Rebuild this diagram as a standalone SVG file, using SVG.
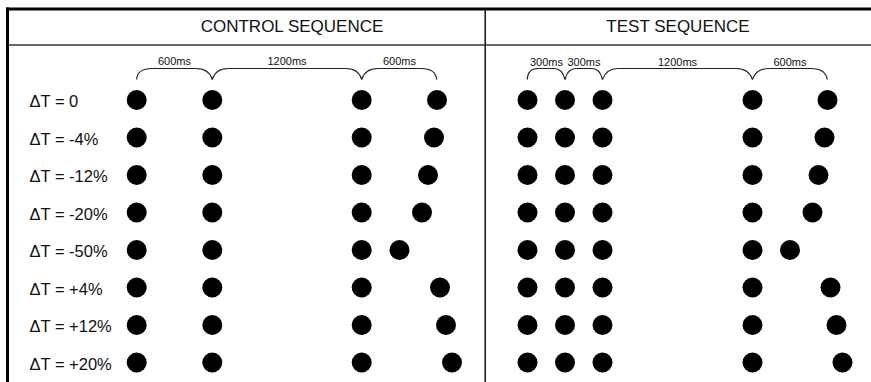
<svg xmlns="http://www.w3.org/2000/svg" width="871" height="382" viewBox="0 0 871 382">
<style>
.hdr{font-family:"Liberation Sans",Arial,sans-serif;font-size:17px;fill:#111;text-anchor:middle}
.lbl{font-family:"Liberation Sans",Arial,sans-serif;font-size:16.5px;fill:#111}
.ms{font-family:"Liberation Sans",Arial,sans-serif;font-size:11px;fill:#111;text-anchor:middle}
.brace{fill:none;stroke:#222;stroke-width:1.2}
.dot{fill:#000}
</style>
<rect width="871" height="382" fill="#fff"/>
<g id="frame">
<line x1="6" y1="9" x2="871" y2="9" stroke="#000" stroke-width="3"/>
<line x1="7.5" y1="7.5" x2="7.5" y2="382" stroke="#000" stroke-width="3"/>
<line x1="9" y1="45" x2="871" y2="45" stroke="#333" stroke-width="1.5"/>
<line x1="485.2" y1="10" x2="485.2" y2="382" stroke="#111" stroke-width="1.5"/>
<text class="hdr" x="292" y="31.7">CONTROL SEQUENCE</text>
<text class="hdr" x="678" y="31.7">TEST SEQUENCE</text>
</g>
<g id="connectors">
<path class="brace" d="M136.7,79.5 C137,72 142,68.5 152,68.5 L196,68.5 C205,68.5 210,72 212.3,79.5"/>
<path class="brace" d="M212.3,79.5 C214.5,72 220,68.5 228,68.5 L346,68.5 C354,68.5 359.5,72 361.7,79.5"/>
<path class="brace" d="M361.7,79.5 C364,72 369,68.5 378,68.5 L421,68.5 C430,68.5 436,72 436.7,79.5"/>
<path class="brace" d="M527.3,79.5 C527.5,73 531,68.5 538,68.5 L554,68.5 C560,68.5 563.5,73 565,79.5"/>
<path class="brace" d="M565,79.5 C566.5,73 570,68.5 576,68.5 L592,68.5 C598,68.5 601,73 602.5,79.5"/>
<path class="brace" d="M602.5,79.5 C605,72 610,68.5 618,68.5 L736,68.5 C744,68.5 750,72 752.5,79.5"/>
<path class="brace" d="M752.5,79.5 C755,72 760,68.5 769,68.5 L811,68.5 C820,68.5 826,72 827.3,79.5"/>
</g>
<g id="interval-labels">
<text class="ms" x="174.5" y="65">600ms</text>
<text class="ms" x="287" y="65">1200ms</text>
<text class="ms" x="399.5" y="65">600ms</text>
<text class="ms" x="546.5" y="65.5">300ms</text>
<text class="ms" x="584" y="65.5">300ms</text>
<text class="ms" x="677.5" y="65.5">1200ms</text>
<text class="ms" x="790" y="65.5">600ms</text>
</g>
<g id="row-0">
<text class="lbl" x="29.5" y="107.3">ΔT = 0</text>
<circle class="dot" cx="136.7" cy="100" r="10"/><circle class="dot" cx="212.3" cy="100" r="10"/><circle class="dot" cx="361.7" cy="100" r="10"/><circle class="dot" cx="437" cy="100" r="10"/>
<circle class="dot" cx="527.5" cy="100" r="10"/><circle class="dot" cx="565" cy="100" r="10"/><circle class="dot" cx="602.5" cy="100" r="10"/><circle class="dot" cx="752.5" cy="100" r="10"/><circle class="dot" cx="827.5" cy="100" r="10"/>
</g>
<g id="row-m4">
<text class="lbl" x="29.5" y="144.8">ΔT = -4%</text>
<circle class="dot" cx="136.7" cy="137.5" r="10"/><circle class="dot" cx="212.3" cy="137.5" r="10"/><circle class="dot" cx="361.7" cy="137.5" r="10"/><circle class="dot" cx="434" cy="137.5" r="10"/>
<circle class="dot" cx="527.5" cy="137.5" r="10"/><circle class="dot" cx="565" cy="137.5" r="10"/><circle class="dot" cx="602.5" cy="137.5" r="10"/><circle class="dot" cx="752.5" cy="137.5" r="10"/><circle class="dot" cx="824.5" cy="137.5" r="10"/>
</g>
<g id="row-m12">
<text class="lbl" x="29.5" y="182.3">ΔT = -12%</text>
<circle class="dot" cx="136.7" cy="175" r="10"/><circle class="dot" cx="212.3" cy="175" r="10"/><circle class="dot" cx="361.7" cy="175" r="10"/><circle class="dot" cx="428" cy="175" r="10"/>
<circle class="dot" cx="527.5" cy="175" r="10"/><circle class="dot" cx="565" cy="175" r="10"/><circle class="dot" cx="602.5" cy="175" r="10"/><circle class="dot" cx="752.5" cy="175" r="10"/><circle class="dot" cx="818.5" cy="175" r="10"/>
</g>
<g id="row-m20">
<text class="lbl" x="29.5" y="219.8">ΔT = -20%</text>
<circle class="dot" cx="136.7" cy="212.5" r="10"/><circle class="dot" cx="212.3" cy="212.5" r="10"/><circle class="dot" cx="361.7" cy="212.5" r="10"/><circle class="dot" cx="422" cy="212.5" r="10"/>
<circle class="dot" cx="527.5" cy="212.5" r="10"/><circle class="dot" cx="565" cy="212.5" r="10"/><circle class="dot" cx="602.5" cy="212.5" r="10"/><circle class="dot" cx="752.5" cy="212.5" r="10"/><circle class="dot" cx="812.5" cy="212.5" r="10"/>
</g>
<g id="row-m50">
<text class="lbl" x="29.5" y="257.3">ΔT = -50%</text>
<circle class="dot" cx="136.7" cy="250" r="10"/><circle class="dot" cx="212.3" cy="250" r="10"/><circle class="dot" cx="361.7" cy="250" r="10"/><circle class="dot" cx="399.5" cy="250" r="10"/>
<circle class="dot" cx="527.5" cy="250" r="10"/><circle class="dot" cx="565" cy="250" r="10"/><circle class="dot" cx="602.5" cy="250" r="10"/><circle class="dot" cx="752.5" cy="250" r="10"/><circle class="dot" cx="790" cy="250" r="10"/>
</g>
<g id="row-p4">
<text class="lbl" x="29.5" y="294.8">ΔT = +4%</text>
<circle class="dot" cx="136.7" cy="287.5" r="10"/><circle class="dot" cx="212.3" cy="287.5" r="10"/><circle class="dot" cx="361.7" cy="287.5" r="10"/><circle class="dot" cx="440" cy="287.5" r="10"/>
<circle class="dot" cx="527.5" cy="287.5" r="10"/><circle class="dot" cx="565" cy="287.5" r="10"/><circle class="dot" cx="602.5" cy="287.5" r="10"/><circle class="dot" cx="752.5" cy="287.5" r="10"/><circle class="dot" cx="830.5" cy="287.5" r="10"/>
</g>
<g id="row-p12">
<text class="lbl" x="29.5" y="332.3">ΔT = +12%</text>
<circle class="dot" cx="136.7" cy="325" r="10"/><circle class="dot" cx="212.3" cy="325" r="10"/><circle class="dot" cx="361.7" cy="325" r="10"/><circle class="dot" cx="446" cy="325" r="10"/>
<circle class="dot" cx="527.5" cy="325" r="10"/><circle class="dot" cx="565" cy="325" r="10"/><circle class="dot" cx="602.5" cy="325" r="10"/><circle class="dot" cx="752.5" cy="325" r="10"/><circle class="dot" cx="836.5" cy="325" r="10"/>
</g>
<g id="row-p20">
<text class="lbl" x="29.5" y="369.8">ΔT = +20%</text>
<circle class="dot" cx="136.7" cy="362.5" r="10"/><circle class="dot" cx="212.3" cy="362.5" r="10"/><circle class="dot" cx="361.7" cy="362.5" r="10"/><circle class="dot" cx="452" cy="362.5" r="10"/>
<circle class="dot" cx="527.5" cy="362.5" r="10"/><circle class="dot" cx="565" cy="362.5" r="10"/><circle class="dot" cx="602.5" cy="362.5" r="10"/><circle class="dot" cx="752.5" cy="362.5" r="10"/><circle class="dot" cx="842.5" cy="362.5" r="10"/>
</g>
</svg>
